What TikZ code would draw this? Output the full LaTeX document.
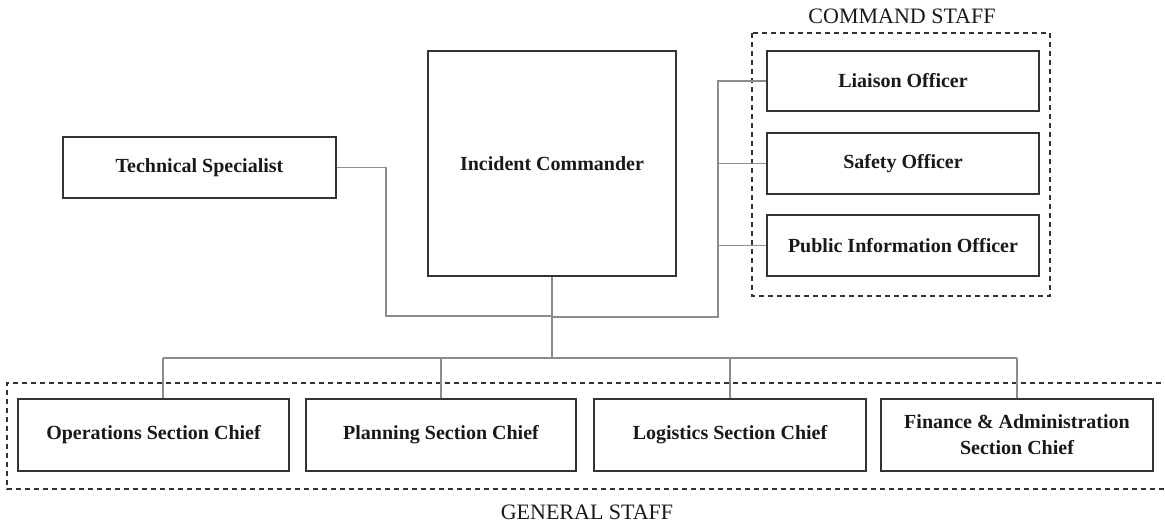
\documentclass[tikz,border=0pt]{standalone}
\usepackage{fontspec}
\setmainfont{Liberation Serif}
\begin{document}
\begin{tikzpicture}[x=1pt,y=1pt,
  role/.style={draw=black!80,line width=1.3pt,fill=white,inner sep=0pt,align=center,
    font=\fontsize{20}{26}\selectfont\bfseries,text=black!90},
  link/.style={draw=black!45,line width=1.1pt},
  group/.style={draw=black!80,line width=1.1pt,dash pattern=on 5pt off 4pt},
  grouplabel/.style={font=\fontsize{22}{24}\selectfont,text=black!90,inner sep=0pt}]
\useasboundingbox (0,0) rectangle (1165,524);
% groups
\draw[group] (752,491) rectangle (1050,228);
\draw[group] (1170,141) -- (7,141) -- (7,35) -- (1170,35);
\node[grouplabel] (cslabel) at (902,508) {COMMAND STAFF};
\node[grouplabel] (gslabel) at (587,12) {GENERAL STAFF};
% nodes
\node[role,minimum width=273pt,minimum height=61pt] (tech) at (199.5,356.5) {Technical Specialist};
\node[role,minimum width=248pt,minimum height=225pt] (ic) at (552,360.5) {Incident Commander};
\node[role,minimum width=272pt,minimum height=60pt] (liaison) at (903,443) {Liaison Officer};
\node[role,minimum width=272pt,minimum height=61pt] (safety) at (903,360.5) {Safety Officer};
\node[role,minimum width=272pt,minimum height=61pt] (pio) at (903,278.5) {Public Information Officer};
\node[role,minimum width=271pt,minimum height=72pt] (ops) at (153.5,89) {Operations Section Chief};
\node[role,minimum width=270pt,minimum height=72pt] (plan) at (441,89) {Planning Section Chief};
\node[role,minimum width=272pt,minimum height=72pt] (log) at (730,89) {Logistics Section Chief};
\node[role,minimum width=272pt,minimum height=72pt] (fin) at (1017,89) {Finance \& Administration\\Section Chief};
% junction coordinates
\coordinate (jt) at (386,208);
\coordinate (jc) at (552,208);
\coordinate (jr) at (718,207);
\coordinate (bus) at (552,166);
\coordinate (bl) at (163,166);
\coordinate (bp) at (441,166);
\coordinate (bg) at (730,166);
\coordinate (bf) at (1017,166);
% connectors
\draw[link] (tech.east) -| (jt) -- (jc);
\draw[link] (ic.south) -- (bus);
\draw[link] (552,207) -- (jr) -- (jr |- liaison.west) -- (liaison.west);
\draw[link] (jr |- safety.west) -- (safety.west);
\draw[link] (jr |- pio.west) -- (pio.west);
\draw[link] (bl) -- (bf);
\draw[link] (bl) -- (bl |- ops.north);
\draw[link] (bp) -- (plan.north);
\draw[link] (bg) -- (log.north);
\draw[link] (bf) -- (fin.north);
\end{tikzpicture}
\end{document}
